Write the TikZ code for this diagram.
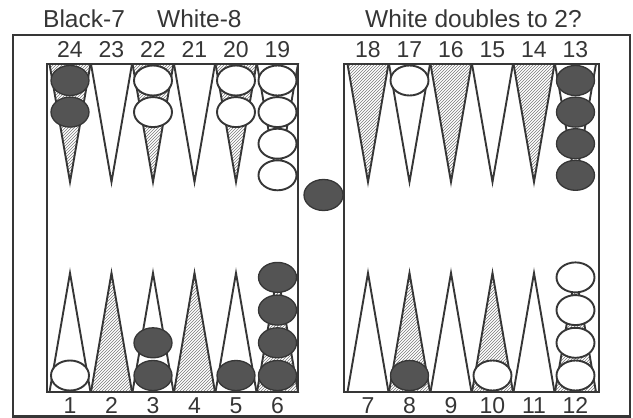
\documentclass[tikz,border=0pt]{standalone}
\usepackage{fontspec}
\setmainfont{Liberation Sans}
\usepackage{xcolor}
\usepackage{tikz}
\usetikzlibrary{patterns}
\definecolor{ink}{HTML}{363636}
\definecolor{stone}{HTML}{545454}
\definecolor{hatch}{HTML}{7A7A7A}

\begin{document}
\begin{tikzpicture}[x=1pt, y=-1pt,
  board/.style={draw=ink, line width=2.1pt},
  spike/.style={draw=ink, line width=1.9pt, fill=white},
  spikehatch/.style={spike, pattern=north east lines, pattern color=hatch},
  blackman/.style={draw=ink, line width=1.3pt, fill=stone},
  whiteman/.style={draw=ink, line width=1.9pt, fill=white},
  pointnum/.style={font=\fontsize{23}{24}\selectfont, text=ink, anchor=base, inner sep=0pt},
  heading/.style={font=\fontsize{24.5}{26}\selectfont, text=ink, anchor=base west, inner sep=0pt}
]
  \useasboundingbox (0,0) rectangle (633,418);

  \node[heading] (score) at (43,27) {Black-7};
  \node[heading] (score2) at (157,27) {White-8};
  \node[heading] (cube) at (365,27) {White doubles to 2?};

  % frame and the two halves of the board
  \draw[board] (13,35) rectangle (630,416.5);
  \draw[board] (47,64) rectangle (298,392);
  \draw[board] (344,64) rectangle (599,392);

  % top points
  \foreach \n/\x/\s in {24/70/spikehatch, 23/111.5/spike, 22/153/spikehatch, 21/194.5/spike, 20/236/spikehatch, 19/277.5/spike,
                        18/368/spikehatch, 17/409.5/spike, 16/451/spikehatch, 15/492.5/spike, 14/534/spikehatch, 13/575.5/spike} {
    \draw[\s] (\x-20.5,64) -- (\x,182) -- (\x+20.5,64) -- cycle;
    \node[pointnum] (n\n) at (\x,57) {\n};
  }
  % bottom points
  \foreach \n/\x/\s in {1/70/spike, 2/111.5/spikehatch, 3/153/spike, 4/194.5/spikehatch, 5/236/spike, 6/277.5/spikehatch,
                        7/368/spike, 8/409.5/spikehatch, 9/451/spike, 10/492.5/spikehatch, 11/534/spike, 12/575.5/spikehatch} {
    \draw[\s] (\x-20.5,392) -- (\x,273) -- (\x+20.5,392) -- cycle;
    \node[pointnum] (n\n) at (\x,413) {\n};
  }

  % checkers
  \foreach \x/\k/\c in {70/0/blackman, 70/1/blackman, 153/0/whiteman, 153/1/whiteman, 236/0/whiteman, 236/1/whiteman,
                        277.5/0/whiteman, 277.5/1/whiteman, 277.5/2/whiteman, 277.5/3/whiteman, 409.5/0/whiteman,
                        575.5/0/blackman, 575.5/1/blackman, 575.5/2/blackman, 575.5/3/blackman}
    \draw[\c] (\x,{80.5+31.6*\k}) ellipse [x radius=19, y radius=15];
  \foreach \x/\k/\c in {70/0/whiteman, 153/0/blackman, 153/1/blackman, 236/0/blackman,
                        277.5/0/blackman, 277.5/1/blackman, 277.5/2/blackman, 277.5/3/blackman, 409.5/0/blackman,
                        492.5/0/whiteman, 575.5/0/whiteman, 575.5/1/whiteman, 575.5/2/whiteman, 575.5/3/whiteman}
    \draw[\c] (\x,{375.5-32.7*\k}) ellipse [x radius=19, y radius=15];

  % on the bar
  \draw[blackman] (323.5,195) ellipse [x radius=19.5, y radius=15.5];
\end{tikzpicture}
\end{document}
